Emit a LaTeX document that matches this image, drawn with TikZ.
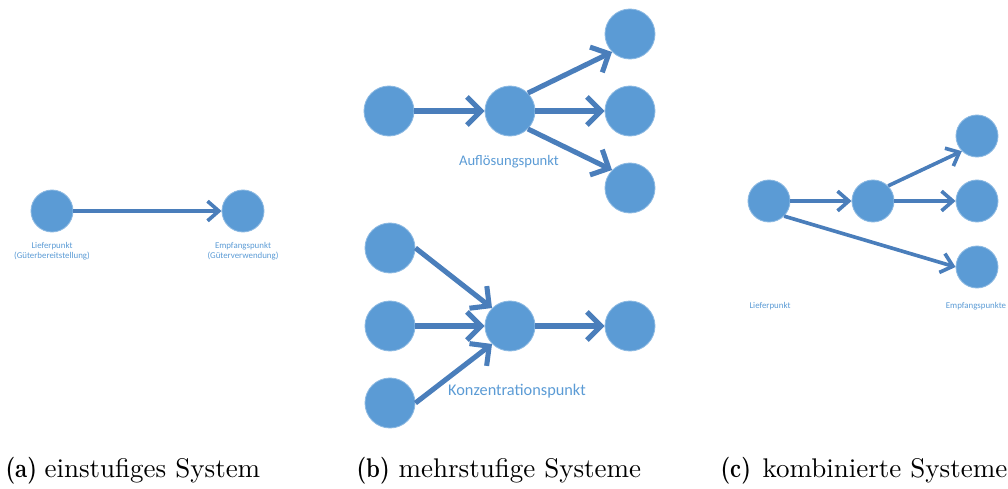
\documentclass[tikz,border=0pt]{standalone}
\usepackage{graphicx}
\usepackage{fontspec}
\newfontfamily\calibri{Carlito}
\usetikzlibrary{arrows.meta,positioning}
\definecolor{punktblau}{RGB}{91,155,213}
\definecolor{pfeilblau}{RGB}{74,126,187}
\tikzset{
  knoten/.style={circle, fill=punktblau, draw=punktblau!70!white, line width=0.3pt, inner sep=0pt, minimum size=0.525cm},
  knotengross/.style={knoten, minimum size=0.625cm},
  fluss/.style={draw=pfeilblau, line width=1.3pt, -{Straight Barb[length=4pt, width=7pt]}},
  flussgross/.style={draw=pfeilblau, line width=1.8pt, -{Straight Barb[length=5pt, width=10pt]}},
  punkttext/.style={text=punktblau, font=\calibri\fontsize{3.15}{3.6}\selectfont, align=center, inner sep=0pt},
  punkttextgross/.style={text=punktblau, font=\calibri\fontsize{5.2}{6}\selectfont, inner sep=0pt},
  unterschrift/.style={anchor=base west, inner sep=0pt, font=\fontsize{9.6}{11.5}\selectfont},
  unterbuchstabe/.style={anchor=base west, inner sep=0pt, font=\fontsize{9.6}{11.5}\selectfont\bfseries}
}
\newcommand{\teilfig}[1]{\scalebox{0.8}[1]{(#1)}}
\begin{document}
\begin{tikzpicture}[x=0.0125cm, y=-0.0125cm]
\useasboundingbox (0,0) rectangle (1008,489);
% (a) einstufig
\node[knoten] (liefer) at (52,211) {};
\node[knoten] (empfang) at (243,211) {};
\draw[fluss] (liefer) -- (empfang);
\node[punkttext] (lieferText) at (52,251) {Lieferpunkt\\(Güterbereitstellung)};
\node[punkttext] (empfangText) at (243,251) {Empfangspunkt\\(Güterverwendung)};
% (b) Aufloesung
\node[knotengross] (aQuelle) at (389,111) {};
\node[knotengross] (aPunkt) at (510,111) {};
\node[knotengross] (aZielO) at (630,34) {};
\node[knotengross] (aZielM) at (630,111) {};
\node[knotengross] (aZielU) at (630,188) {};
\draw[flussgross] (aQuelle) -- (aPunkt);
\draw[flussgross] (aPunkt.north east) -- (aZielO.south west);
\draw[flussgross] (aPunkt) -- (aZielM);
\draw[flussgross] (aPunkt.south east) -- (aZielU.north west);
\node[punkttextgross] (aText) at (509,162) {Auflösungspunkt};
% (b) Konzentration
\node[knotengross] (kQuelleO) at (390,248) {};
\node[knotengross] (kQuelleM) at (390,326) {};
\node[knotengross] (kQuelleU) at (390,403) {};
\node[knotengross] (kPunkt) at (510,326) {};
\node[knotengross] (kZiel) at (630,326) {};
\draw[flussgross] (kQuelleO.east) -- (kPunkt.north west);
\draw[flussgross] (kQuelleM) -- (kPunkt);
\draw[flussgross] (kQuelleU.east) -- (kPunkt.south west);
\draw[flussgross] (kPunkt) -- (kZiel);
\node[punkttextgross, font=\calibri\fontsize{5.8}{6.6}\selectfont] (kText) at (517,391) {Konzentrationspunkt};
% (c) kombiniert
\node[knoten] (cLiefer) at (769,201) {};
\node[knoten] (cPunkt) at (873,201) {};
\node[knoten] (cZielO) at (977,136) {};
\node[knoten] (cZielM) at (977,201) {};
\node[knoten] (cZielU) at (977,267) {};
\draw[fluss] (cLiefer) -- (cPunkt);
\draw[fluss] (cPunkt.north east) -- (cZielO.south west);
\draw[fluss] (cPunkt) -- (cZielM);
\draw[fluss] (cLiefer.south east) -- (cZielU.west);
\node[punkttext] (cLieferText) at (770,306) {Lieferpunkt};
\node[punkttext] (cEmpfangText) at (976,306) {Empfangspunkte};
% Unterschriften
\node[unterbuchstabe] (capA) at (5,477) {\teilfig{a}};
\node[unterschrift] (capAText) at (44,477) {einstufiges System};
\node[unterbuchstabe] (capB) at (356,477) {\teilfig{b}};
\node[unterschrift] (capBText) at (398,477) {mehrstufige Systeme};
\node[unterbuchstabe] (capC) at (720,477) {\teilfig{c}};
\node[unterschrift] (capCText) at (762,477) {kombinierte Systeme};
\end{tikzpicture}
\end{document}
